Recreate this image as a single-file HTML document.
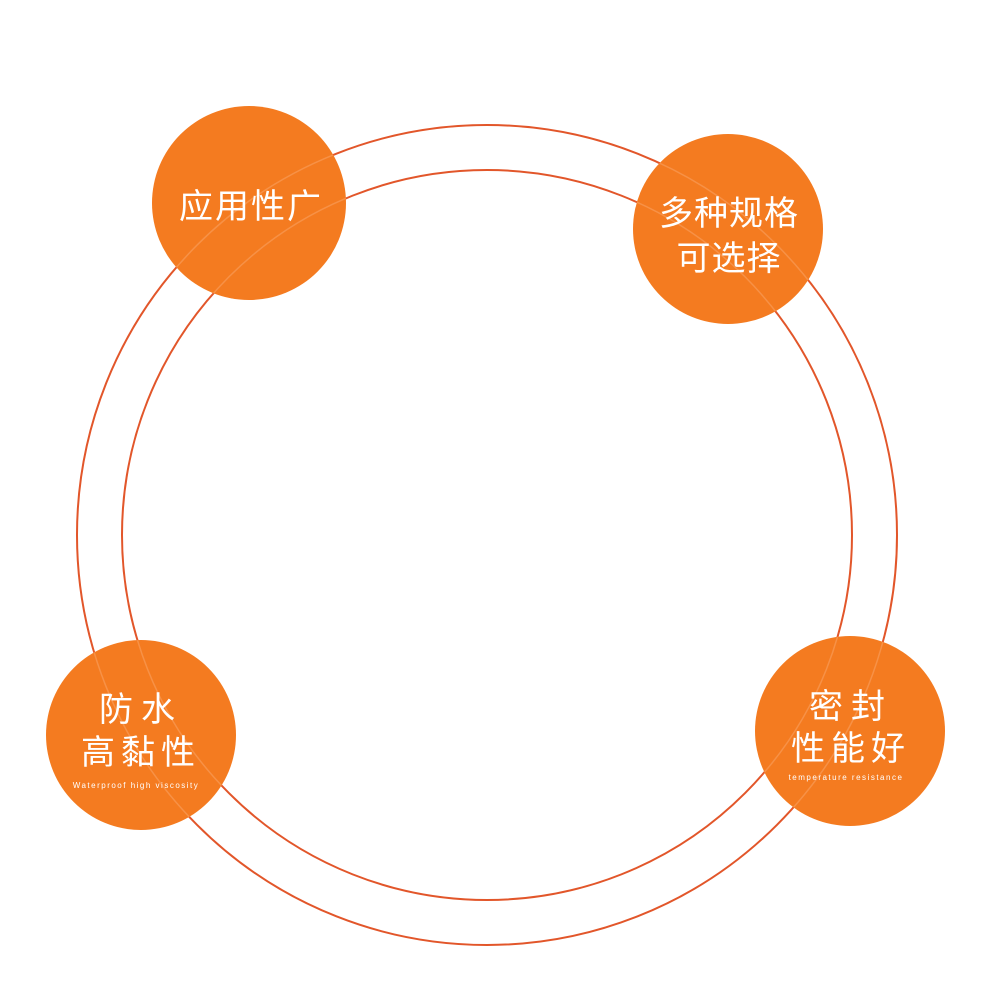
<!DOCTYPE html>
<html><head><meta charset="utf-8"><style>
html,body{margin:0;padding:0;background:#fff;}
svg{display:block;}
text{font-family:"Liberation Sans","Noto Sans CJK SC",sans-serif;fill:#fff;text-anchor:middle;}
</style></head><body>
<svg width="990" height="991" viewBox="0 0 990 991">
<defs><clipPath id="c">
<circle cx="249" cy="203" r="97"/>
<circle cx="728" cy="229" r="95"/>
<circle cx="141" cy="735" r="95"/>
<circle cx="850" cy="731" r="95"/>
</clipPath></defs>
<rect width="990" height="991" fill="#fff"/>
<g fill="none" stroke="#e2562a" stroke-width="2">
<circle cx="487" cy="535" r="410"/>
<circle cx="487" cy="535" r="365"/>
</g>
<g fill="#f47b20">
<circle cx="249" cy="203" r="97"/>
<circle cx="728" cy="229" r="95"/>
<circle cx="141" cy="735" r="95"/>
<circle cx="850" cy="731" r="95"/>
</g>
<g fill="none" stroke="#f9a060" stroke-width="1.5" stroke-opacity="0.6" clip-path="url(#c)">
<circle cx="487" cy="535" r="410"/>
<circle cx="487" cy="535" r="365"/>
</g>
<g font-size="34">
<text x="251" y="218" letter-spacing="2">应用性广</text>
<text x="729" y="225" letter-spacing="1">多种规格</text>
<text x="729" y="270" letter-spacing="1">可选择</text>
<text x="141" y="721" letter-spacing="8">防水</text>
<text x="141" y="764" letter-spacing="6">高黏性</text>
<text x="851" y="718" letter-spacing="8">密封</text>
<text x="851" y="760" letter-spacing="6">性能好</text>
</g>
<text x="136" y="788" font-size="8" letter-spacing="1.5">Waterproof high viscosity</text>
<text x="846" y="780" font-size="8" letter-spacing="1.5">temperature resistance</text>
</svg>
</body></html>
